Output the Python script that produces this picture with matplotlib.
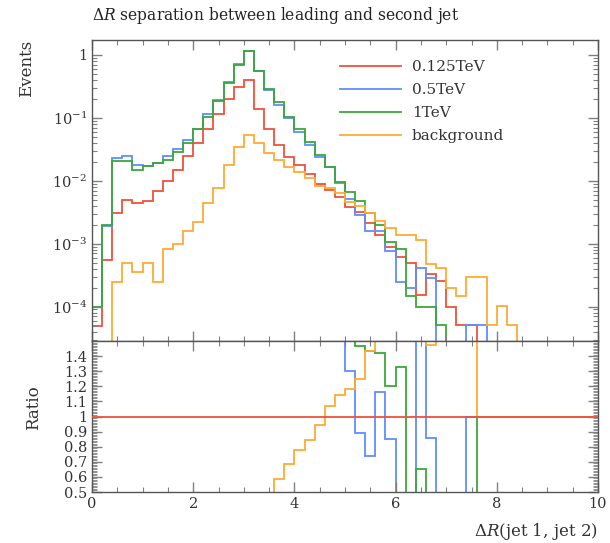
import numpy as np
import matplotlib
matplotlib.use("Agg")
import matplotlib.pyplot as plt
from matplotlib.ticker import FixedLocator, MultipleLocator, FuncFormatter, LogLocator, NullFormatter

# Delta R(jet1, jet2) histograms, 50 bins of width 0.2 from 0 to 10
edges = np.linspace(0, 10, 51)

h_0125 = [5.0e-5, 5.6e-4, 3.1e-3, 4.95e-3, 4.4e-3, 4.8e-3, 6.9e-3, 0.010, 0.0149, 0.0248,
          0.0406, 0.066, 0.114, 0.197, 0.313, 0.40, 0.137, 0.066, 0.037, 0.024,
          0.018, 0.013, 8.9e-3, 7.1e-3, 5.6e-3, 3.9e-3, 3.2e-3, 2.16e-3, 1.37e-3, 8.9e-4,
          6.1e-4, 5.0e-4, 1.53e-4, 3.26e-4, 2.6e-4, 1.0e-4, 5.1e-5, 5.1e-5, 0, 0,
          0, 0, 0, 0, 0, 0, 0, 0, 0, 0]
h_05 = [1.0e-4, 1.9e-3, 0.0234, 0.0245, 0.0178, 0.0175, 0.0195, 0.0247, 0.0316, 0.0446,
        0.066, 0.114, 0.19, 0.37, 0.73, 1.15, 0.55, 0.28, 0.16, 0.10,
        0.060, 0.037, 0.0236, 0.0164, 9.3e-3, 5.07e-3, 2.84e-3, 1.6e-3, 1.59e-3, 7.6e-4,
        2.5e-4, 2.0e-4, 4.05e-4, 2.8e-4, 0, 0, 0, 5.1e-5, 5.1e-5, 0,
        0, 0, 0, 0, 0, 0, 0, 0, 0, 0]
h_1 = [1.0e-4, 2.0e-3, 0.021, 0.0205, 0.0149, 0.0172, 0.019, 0.0214, 0.029, 0.0406,
       0.066, 0.102, 0.188, 0.355, 0.69, 1.17, 0.56, 0.29, 0.177, 0.105,
       0.066, 0.041, 0.0257, 0.0168, 9.7e-3, 6.7e-3, 4.7e-3, 3.1e-3, 1.95e-3, 1.07e-3,
       8.1e-4, 1.48e-4, 1.0e-4, 1.0e-4, 5.1e-5, 0, 0, 0, 0, 0,
       0, 0, 0, 0, 0, 0, 0, 0, 0, 0]
h_bkg = [0, 0, 2.5e-4, 5.0e-4, 3.5e-4, 5.0e-4, 2.5e-4, 8.1e-4, 9.8e-4, 1.6e-3,
         2.2e-3, 4.4e-3, 7.6e-3, 0.0178, 0.035, 0.0535, 0.0405, 0.028, 0.0218, 0.0165,
         0.014, 0.011, 8.4e-3, 7.6e-3, 6.4e-3, 4.6e-3, 4.0e-3, 3.1e-3, 2.3e-3, 1.75e-3,
         1.37e-3, 1.37e-3, 1.15e-3, 4.8e-4, 4.05e-4, 2.0e-4, 1.48e-4, 3.0e-4, 3.0e-4, 5.1e-5,
         1.02e-4, 5.1e-5, 0, 0, 0, 0, 0, 0, 0, 0]

labels = ["0.125TeV", "0.5TeV", "1TeV", "background"]
colors = ["#f0503c", "#5f8cff", "#3aa83a", "#ffaa33"]

plt.rcParams['font.family'] = ['DejaVu Serif']
plt.rcParams['mathtext.fontset'] = 'dejavuserif'

fig = plt.figure(figsize=(6.10, 5.43), dpi=100)
W, H = 610, 543
x0, x1 = 92, 598
ax = fig.add_axes([x0 / W, 1 - 341 / H, (x1 - x0) / W, (341 - 40) / H])
axr = fig.add_axes([x0 / W, 1 - 492 / H, (x1 - x0) / W, (492 - 341) / H], sharex=ax)

series = [h_0125, h_05, h_1, h_bkg]
for h, lab, c in zip(series, labels, colors):
    v = np.array(h, dtype=float)
    v = np.where(v > 0, v, 1e-12)
    ax.stairs(v, edges, baseline=None, color=c, lw=1.3, label=lab)

ax.set_yscale('log')
ax.set_xlim(0, 10)
ax.set_ylim(2.84e-5, 1.73)

ref = np.array(h_0125, dtype=float)
safe = np.where(ref > 0, ref, 1.0)
for h, c in zip(series[1:], colors[1:]):
    v = np.array(h, dtype=float)
    r = np.where(ref > 0, v / safe, 1.0)
    axr.stairs(r, edges, baseline=None, color=c, lw=1.3)
axr.axhline(1.0, color=colors[0], lw=1.3, zorder=5)
axr.set_ylim(0.5, 1.5)

spine_c = '#555555'
tick_c = '#808080'
for a in (ax, axr):
    for s in a.spines.values():
        s.set_color(spine_c)
        s.set_linewidth(1.0)
    a.tick_params(which='both', direction='in', top=True, right=True, color=tick_c,
                  labelsize=10.5, labelcolor='#333333')
    a.tick_params(which='major', length=7, width=1.0)
    a.tick_params(which='minor', length=3.5, width=0.8)
    a.xaxis.set_major_locator(MultipleLocator(2))
    a.xaxis.set_minor_locator(MultipleLocator(0.5))

ax.tick_params(labelbottom=False)
ax.yaxis.set_major_locator(LogLocator(base=10, numticks=10))
ax.yaxis.set_minor_locator(LogLocator(base=10, subs=np.arange(2, 10), numticks=20))
ax.yaxis.set_minor_formatter(NullFormatter())


def log_fmt(v, pos):
    e = int(round(np.log10(v)))
    return '1' if e == 0 else r'$10^{%d}$' % e


ax.yaxis.set_major_formatter(FuncFormatter(log_fmt))

rt = [0.5, 0.6, 0.7, 0.8, 0.9, 1.0, 1.1, 1.2, 1.3, 1.4]
axr.yaxis.set_major_locator(FixedLocator(rt))
axr.yaxis.set_minor_locator(MultipleLocator(0.01))
axr.tick_params(axis='y', which='minor', length=3.5, width=0.6)
axr.yaxis.set_major_formatter(FuncFormatter(lambda v, p: '%g' % round(v, 2)))

ax.set_title(r'$\Delta R$ separation between leading and second jet', loc='left',
             fontsize=11.2, pad=14.5, color='#222222')
ax.set_ylabel('Events', fontsize=12, loc='top', color='#333333')
ax.yaxis.set_label_coords(-0.113, 1.0)
axr.set_ylabel('Ratio', fontsize=12, color='#333333')
axr.yaxis.set_label_coords(-0.099, 0.56)
axr.set_xlabel(r'$\Delta R$(jet 1, jet 2)', fontsize=12, loc='right', labelpad=7, color='#333333')

ax.legend(loc='upper left', bbox_to_anchor=(0.49, 0.932), frameon=False, fontsize=11,
          handlelength=4.0, handletextpad=0.7, labelspacing=0.58, borderpad=0, borderaxespad=0,
          labelcolor='#333333')

fig.savefig('out.png', dpi=100)
